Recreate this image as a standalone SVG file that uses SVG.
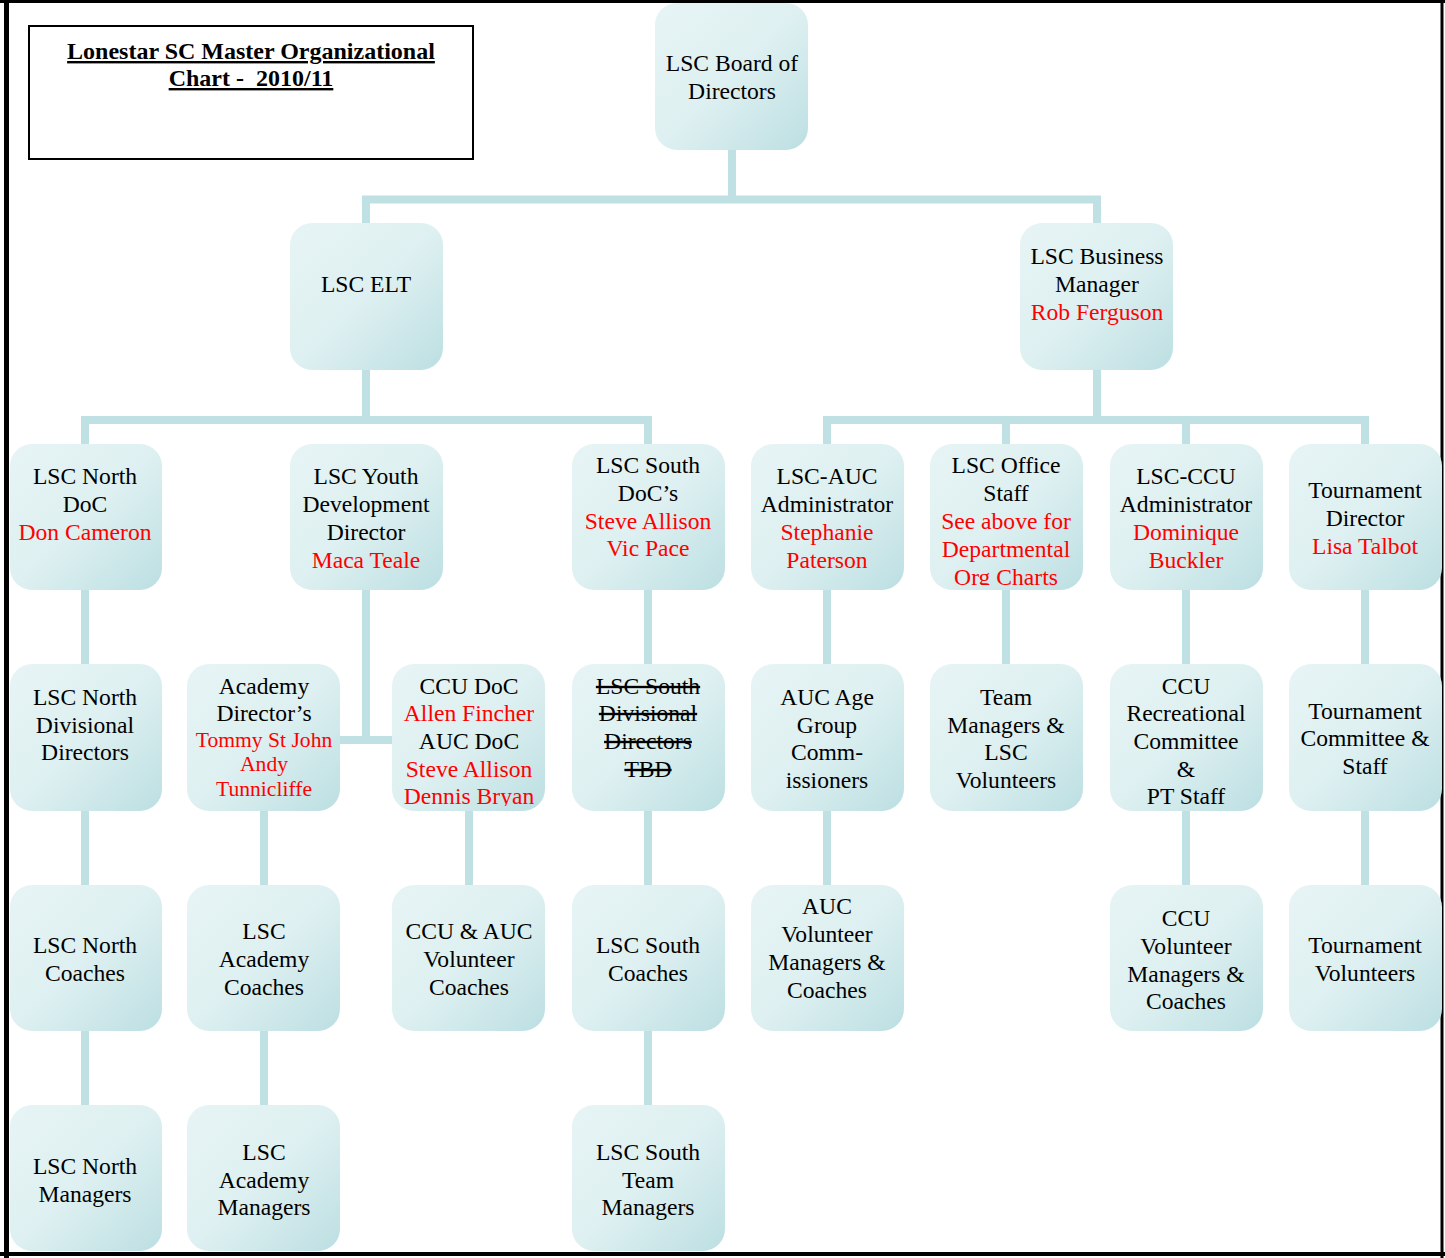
<svg xmlns="http://www.w3.org/2000/svg" width="1445" height="1258" viewBox="0 0 1445 1258">
<defs>
<linearGradient id="g" x1="0" y1="0" x2="1" y2="1">
<stop offset="0" stop-color="#e7f4f5"/>
<stop offset="0.5" stop-color="#def0f1"/>
<stop offset="1" stop-color="#bcdfe2"/>
</linearGradient>
<clipPath id="clipOffice"><rect x="930" y="444" width="153" height="141"/></clipPath>
<clipPath id="clipCcuDoc"><rect x="392" y="664" width="153" height="142"/></clipPath>
<style>
.n{fill:url(#g);}
.c{stroke:#bfe1e4;stroke-width:8;fill:none;}
text{font-family:"Liberation Serif","Times New Roman",serif;font-size:23.6px;text-anchor:middle;fill:#000;}
.r{fill:#ff0000;}
.s{font-size:21.6px;}
.k{text-decoration:line-through;}
.t{font-weight:bold;text-decoration:underline;font-size:24px;}
</style>
</defs>
<rect x="0" y="0" width="1445" height="1258" fill="#fff"/>
<g fill="none" stroke="#000">
<line x1="0" y1="1.5" x2="1445" y2="1.5" stroke-width="3"/>
<line x1="6.5" y1="0" x2="6.5" y2="1258" stroke-width="5"/>
<line x1="1442" y1="0" x2="1442" y2="1258" stroke-width="3"/>
<line x1="0" y1="1254" x2="1445" y2="1254" stroke-width="4"/>
</g>
<g id="title">
<rect x="29" y="26" width="444" height="133" fill="#fff" stroke="#000" stroke-width="2"/>
<text class="t" x="251" y="59">Lonestar SC Master Organizational</text>
<text class="t" x="251" y="86" xml:space="preserve">Chart -  2010/11</text>
</g>
<g id="connectors">
<path class="c" d="M732 150V199.5M366 223V199.5H1097V223"/>
<path class="c" d="M366 370V420M85 444V420H648V444"/>
<path class="c" d="M1097 370V420M827 444V420H1365V444M1006 420V444M1186 420V444"/>
<path class="c" d="M366 590V740M340 740H392"/>
<path class="c" d="M85 590V664M85 811V885M85 1031V1105"/>
<path class="c" d="M264 811V885M264 1031V1105"/>
<path class="c" d="M469 811V885"/>
<path class="c" d="M648 590V664M648 811V885M648 1031V1105"/>
<path class="c" d="M827 590V664M827 811V885"/>
<path class="c" d="M1006 590V664"/>
<path class="c" d="M1186 590V664M1186 811V885"/>
<path class="c" d="M1365 590V664M1365 811V885"/>
</g>
<g id="board"><rect class="n" x="655" y="3" width="153" height="147" rx="22"/>
<text x="732" y="71">LSC Board of</text><text x="732" y="99">Directors</text></g>
<g id="elt"><rect class="n" x="290" y="223" width="153" height="147" rx="22"/>
<text x="366" y="292">LSC ELT</text></g>
<g id="business"><rect class="n" x="1020" y="223" width="153" height="147" rx="22"/>
<text x="1097" y="264">LSC Business</text><text x="1097" y="292">Manager</text><text class="r" x="1097" y="320">Rob Ferguson</text></g>

<g id="northdoc"><rect class="n" x="10" y="444" width="152" height="146" rx="22"/>
<text x="85" y="484">LSC North</text><text x="85" y="512">DoC</text><text class="r" x="85" y="540">Don Cameron</text></g>
<g id="youth"><rect class="n" x="290" y="444" width="153" height="146" rx="22"/>
<text x="366" y="484">LSC Youth</text><text x="366" y="512">Development</text><text x="366" y="540">Director</text><text class="r" x="366" y="568">Maca Teale</text></g>
<g id="southdoc"><rect class="n" x="572" y="444" width="153" height="146" rx="22"/>
<text x="648" y="473">LSC South</text><text x="648" y="501">DoC’s</text><text class="r" x="648" y="529">Steve Allison</text><text class="r" x="648" y="556">Vic Pace</text></g>
<g id="aucadmin"><rect class="n" x="751" y="444" width="153" height="146" rx="22"/>
<text x="827" y="484">LSC-AUC</text><text x="827" y="512">Administrator</text><text class="r" x="827" y="540">Stephanie</text><text class="r" x="827" y="568">Paterson</text></g>
<g id="office"><rect class="n" x="930" y="444" width="153" height="146" rx="22"/>
<g clip-path="url(#clipOffice)"><text x="1006" y="473">LSC Office</text><text x="1006" y="501">Staff</text><text class="r" x="1006" y="529">See above for</text><text class="r" x="1006" y="557">Departmental</text><text class="r" x="1006" y="585">Org Charts</text></g></g>
<g id="ccuadmin"><rect class="n" x="1110" y="444" width="153" height="146" rx="22"/>
<text x="1186" y="484">LSC-CCU</text><text x="1186" y="512">Administrator</text><text class="r" x="1186" y="540">Dominique</text><text class="r" x="1186" y="568">Buckler</text></g>
<g id="tourdir"><rect class="n" x="1289" y="444" width="153" height="146" rx="22"/>
<text x="1365" y="498">Tournament</text><text x="1365" y="526">Director</text><text class="r" x="1365" y="554">Lisa Talbot</text></g>

<g id="northdiv"><rect class="n" x="10" y="664" width="152" height="147" rx="22"/>
<text x="85" y="705">LSC North</text><text x="85" y="733">Divisional</text><text x="85" y="760">Directors</text></g>
<g id="academydir"><rect class="n" x="187" y="664" width="153" height="147" rx="22"/>
<text x="264" y="694">Academy</text><text x="264" y="721">Director’s</text><text class="r s" x="264" y="747">Tommy St John</text><text class="r s" x="264" y="771">Andy</text><text class="r s" x="264" y="796">Tunnicliffe</text></g>
<g id="ccudoc"><rect class="n" x="392" y="664" width="153" height="147" rx="22"/>
<g clip-path="url(#clipCcuDoc)"><text x="469" y="694">CCU DoC</text><text class="r" x="469" y="721">Allen Fincher</text><text x="469" y="749">AUC DoC</text><text class="r" x="469" y="777">Steve Allison</text><text class="r" x="469" y="804">Dennis Bryan</text></g></g>
<g id="southdiv"><rect class="n" x="572" y="664" width="153" height="147" rx="22"/>
<text class="k" x="648" y="694">LSC South</text><text class="k" x="648" y="721">Divisional</text><text class="k" x="648" y="749">Directors</text><text class="k" x="648" y="777">TBD</text></g>
<g id="aucage"><rect class="n" x="751" y="664" width="153" height="147" rx="22"/>
<text x="827" y="705">AUC Age</text><text x="827" y="733">Group</text><text x="827" y="760">Comm-</text><text x="827" y="788">issioners</text></g>
<g id="teammgrs"><rect class="n" x="930" y="664" width="153" height="147" rx="22"/>
<text x="1006" y="705">Team</text><text x="1006" y="733">Managers &amp;</text><text x="1006" y="760">LSC</text><text x="1006" y="788">Volunteers</text></g>
<g id="ccurec"><rect class="n" x="1110" y="664" width="153" height="147" rx="22"/>
<text x="1186" y="694">CCU</text><text x="1186" y="721">Recreational</text><text x="1186" y="749">Committee</text><text x="1186" y="777">&amp;</text><text x="1186" y="804">PT Staff</text></g>
<g id="tourcomm"><rect class="n" x="1289" y="664" width="153" height="147" rx="22"/>
<text x="1365" y="719">Tournament</text><text x="1365" y="746">Committee &amp;</text><text x="1365" y="774">Staff</text></g>

<g id="northcoaches"><rect class="n" x="10" y="885" width="152" height="146" rx="22"/>
<text x="85" y="953">LSC North</text><text x="85" y="981">Coaches</text></g>
<g id="academycoaches"><rect class="n" x="187" y="885" width="153" height="146" rx="22"/>
<text x="264" y="939">LSC</text><text x="264" y="967">Academy</text><text x="264" y="995">Coaches</text></g>
<g id="ccuauccoaches"><rect class="n" x="392" y="885" width="153" height="146" rx="22"/>
<text x="469" y="939">CCU &amp; AUC</text><text x="469" y="967">Volunteer</text><text x="469" y="995">Coaches</text></g>
<g id="southcoaches"><rect class="n" x="572" y="885" width="153" height="146" rx="22"/>
<text x="648" y="953">LSC South</text><text x="648" y="981">Coaches</text></g>
<g id="aucvol"><rect class="n" x="751" y="885" width="153" height="146" rx="22"/>
<text x="827" y="914">AUC</text><text x="827" y="942">Volunteer</text><text x="827" y="970">Managers &amp;</text><text x="827" y="998">Coaches</text></g>
<g id="ccuvol"><rect class="n" x="1110" y="885" width="153" height="146" rx="22"/>
<text x="1186" y="926">CCU</text><text x="1186" y="954">Volunteer</text><text x="1186" y="982">Managers &amp;</text><text x="1186" y="1009">Coaches</text></g>
<g id="tourvol"><rect class="n" x="1289" y="885" width="153" height="146" rx="22"/>
<text x="1365" y="953">Tournament</text><text x="1365" y="981">Volunteers</text></g>

<g id="northmgrs"><rect class="n" x="10" y="1105" width="152" height="146" rx="22"/>
<text x="85" y="1174">LSC North</text><text x="85" y="1202">Managers</text></g>
<g id="academymgrs"><rect class="n" x="187" y="1105" width="153" height="146" rx="22"/>
<text x="264" y="1160">LSC</text><text x="264" y="1188">Academy</text><text x="264" y="1215">Managers</text></g>
<g id="southmgrs"><rect class="n" x="572" y="1105" width="153" height="146" rx="22"/>
<text x="648" y="1160">LSC South</text><text x="648" y="1188">Team</text><text x="648" y="1215">Managers</text></g>
</svg>
